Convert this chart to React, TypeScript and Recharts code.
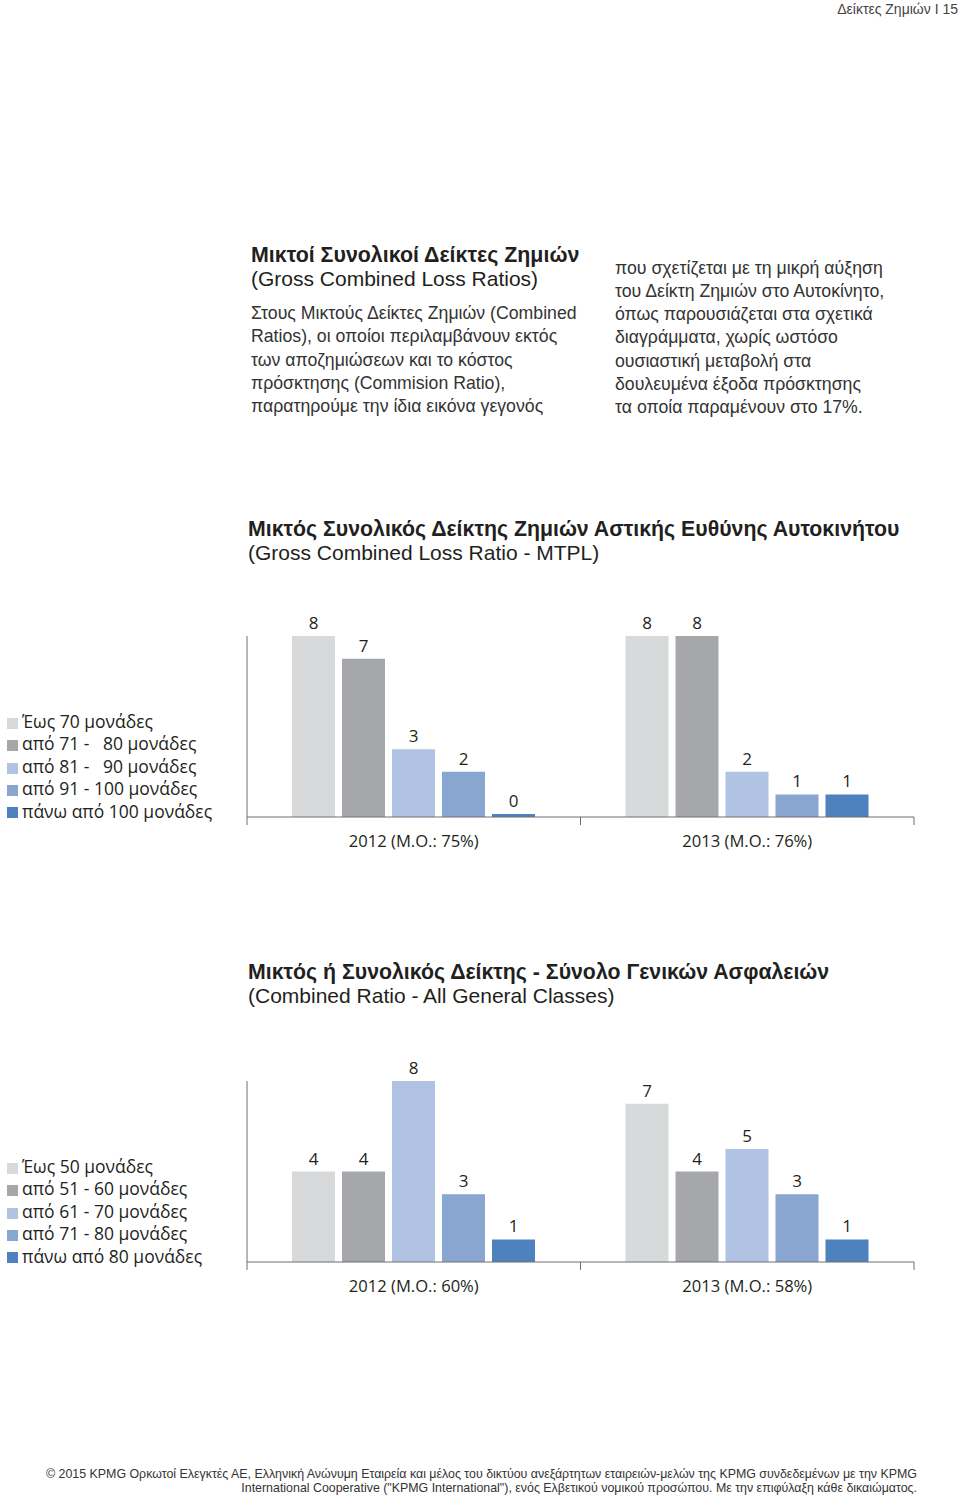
import React from 'react';
import { BarChart, Bar, XAxis, YAxis, Legend, LabelList } from 'recharts';

// ---------- Data ----------
const mtplCategories = ['2012 (M.O.: 75%)', '2013 (M.O.: 76%)'];
const mtplSeriesNames = ['Έως 70 μονάδες', 'από 71 -   80 μονάδες', 'από 81 -   90 μονάδες', 'από 91 - 100 μονάδες', 'πάνω από 100 μονάδες'];
const mtplUpTo70 = [8, 8];
const mtpl71to80 = [7, 8];
const mtpl81to90 = [3, 2];
const mtpl91to100 = [2, 1];
const mtplOver100 = [0, 1];

const allCategories = ['2012 (M.O.: 60%)', '2013 (M.O.: 58%)'];
const allSeriesNames = ['Έως 50 μονάδες', 'από 51 - 60 μονάδες', 'από 61 - 70 μονάδες', 'από 71 - 80 μονάδες', 'πάνω από 80 μονάδες'];
const allUpTo50 = [4, 7];
const all51to60 = [4, 4];
const all61to70 = [8, 5];
const all71to80 = [3, 3];
const allOver80 = [1, 1];

const seriesColors = ['#d8d9db', '#a6a7ab', '#b1c3e2', '#89a6d1', '#4d82bf'];
const seriesKeys = ['s0', 's1', 's2', 's3', 's4'];

function buildRows(categories: string[], series: number[][]) {
  return categories.map((cat, i) => {
    const row: Record<string, string | number> = { cat };
    series.forEach((vals, k) => {
      row[seriesKeys[k]] = vals[i];
    });
    return row;
  });
}

const mtplData = buildRows(mtplCategories, [mtplUpTo70, mtpl71to80, mtpl81to90, mtpl91to100, mtplOver100]);
const allData = buildRows(allCategories, [allUpTo50, all51to60, all61to70, all71to80, allOver80]);

// ---------- Styles ----------
const chartFont = "'Open Sans', 'Noto Sans', sans-serif";
const textFont = "'Liberation Sans', Arial, sans-serif";
const ink = '#231f20';
const axisColor = '#6d6e71';

const TICK_SIZE = 8;
const TICK_MARGIN = 22;

const CategoryTick = (props: any) => {
  const { x, y, payload, index, visibleTicksCount } = props;
  const half = payload.offset || 0;
  const lineTop = y - TICK_SIZE - TICK_MARGIN;
  const lineBottom = lineTop + TICK_SIZE;
  const isLast = index === visibleTicksCount - 1;
  return (
    <g>
      <line x1={x - half} x2={x - half} y1={lineTop} y2={lineBottom} stroke={axisColor} strokeWidth={1} />
      {isLast && <line x1={x + half} x2={x + half} y1={lineTop} y2={lineBottom} stroke={axisColor} strokeWidth={1} />}
      <text x={x} y={y} textAnchor="middle" fill={ink} fontSize={16.6} fontFamily={chartFont}>
        {payload.value}
      </text>
    </g>
  );
};

function GroupChart({ data, names }: { data: any[]; names: string[] }) {
  return (
    <BarChart
      width={960}
      height={320}
      data={data}
      margin={{ top: 76, right: 46, left: 246, bottom: 33 }}
      barSize={43}
      barGap={7}
    >
      <XAxis
        dataKey="cat"
        height={30}
        interval={0}
        tickLine={false}
        tickSize={TICK_SIZE}
        tickMargin={TICK_MARGIN}
        axisLine={{ stroke: axisColor, strokeWidth: 1 }}
        tick={<CategoryTick />}
      />
      <YAxis
        width={1}
        domain={[0, 8]}
        allowDataOverflow
        tick={false}
        tickLine={false}
        axisLine={{ stroke: axisColor, strokeWidth: 1 }}
      />
      <Legend
        layout="vertical"
        align="center"
        verticalAlign="middle"
        iconType="square"
        iconSize={11}
        wrapperStyle={{
          left: 7,
          top: 150,
          width: 235,
          lineHeight: '22.4px',
          fontSize: 17.5,
          fontFamily: chartFont,
          textAlign: 'left',
        }}
        formatter={(value: string) => <span style={{ color: ink, whiteSpace: 'pre' }}>{value}</span>}
      />
      {seriesKeys.map((key, k) => (
        <Bar key={key} dataKey={key} name={names[k]} fill={seriesColors[k]} minPointSize={3} isAnimationActive={false}>
          <LabelList dataKey={key} position="top" offset={7} fill={ink} fontSize={17} fontFamily={chartFont} />
        </Bar>
      ))}
    </BarChart>
  );
}

const abs = (left: number, top: number, extra: React.CSSProperties = {}): React.CSSProperties => ({
  position: 'absolute',
  left,
  top,
  margin: 0,
  ...extra,
});

export default function App() {
  return (
    <div style={{ position: 'absolute', left: 0, top: 0, width: 960, height: 1495, background: '#fff', color: ink, fontFamily: textFont, overflow: 'hidden' }}>
      {/* Page header */}
      <div style={abs(700, 0, { width: 258, textAlign: 'right', fontSize: 14, lineHeight: '18px', color: '#444' })}>
        Δείκτες Ζημιών I 15
      </div>

      {/* Intro text left column */}
      <div style={abs(251, 244, { fontSize: 21, lineHeight: '23px' })}>
        <div style={{ fontWeight: 700, fontSize: 21.4 }}>Μικτοί Συνολικοί Δείκτες Ζημιών</div>
        <div>(Gross Combined Loss Ratios)</div>
      </div>
      <div style={abs(251, 302, { fontSize: 17.7, lineHeight: '23.3px', color: '#333' })}>
        <div>Στους Μικτούς Δείκτες Ζημιών (Combined</div>
        <div>Ratios), οι οποίοι περιλαμβάνουν εκτός</div>
        <div>των αποζημιώσεων και το κόστος</div>
        <div>πρόσκτησης (Commision Ratio),</div>
        <div>παρατηρούμε την ίδια εικόνα γεγονός</div>
      </div>

      {/* Intro text right column */}
      <div style={abs(615, 256.5, { fontSize: 17.7, lineHeight: '23.3px', color: '#333' })}>
        <div>που σχετίζεται με τη μικρή αύξηση</div>
        <div>του Δείκτη Ζημιών στο Αυτοκίνητο,</div>
        <div>όπως παρουσιάζεται στα σχετικά</div>
        <div>διαγράμματα, χωρίς ωστόσο</div>
        <div>ουσιαστική μεταβολή στα</div>
        <div>δουλευμένα έξοδα πρόσκτησης</div>
        <div>τα οποία παραμένουν στο 17%.</div>
      </div>

      {/* Chart 1 title */}
      <div style={abs(248, 517.5, { fontSize: 21, lineHeight: '23px' })}>
        <div style={{ fontWeight: 700, fontSize: 21.3 }}>Μικτός Συνολικός Δείκτης Ζημιών Αστικής Ευθύνης Αυτοκινήτου</div>
        <div>(Gross Combined Loss Ratio - MTPL)</div>
      </div>
      <div style={abs(0, 560)}>
        <GroupChart data={mtplData} names={mtplSeriesNames} />
      </div>

      {/* Chart 2 title */}
      <div style={abs(248, 960.5, { fontSize: 21, lineHeight: '23px' })}>
        <div style={{ fontWeight: 700, fontSize: 21.3 }}>Μικτός ή Συνολικός Δείκτης - Σύνολο Γενικών Ασφαλειών</div>
        <div>(Combined Ratio - All General Classes)</div>
      </div>
      <div style={abs(0, 1005)}>
        <GroupChart data={allData} names={allSeriesNames} />
      </div>

      {/* Footer */}
      <div style={abs(20, 1467, { width: 897, textAlign: 'right', fontSize: 12.4, lineHeight: '14px', color: '#333' })}>
        <div>© 2015 KPMG Ορκωτοί Ελεγκτές ΑΕ, Ελληνική Ανώνυμη Εταιρεία και μέλος του δικτύου ανεξάρτητων εταιρειών-μελών της KPMG συνδεδεμένων με την KPMG</div>
        <div>International Cooperative ("KPMG International"), ενός Ελβετικού νομικού προσώπου. Με την επιφύλαξη κάθε δικαιώματος.</div>
      </div>
    </div>
  );
}
